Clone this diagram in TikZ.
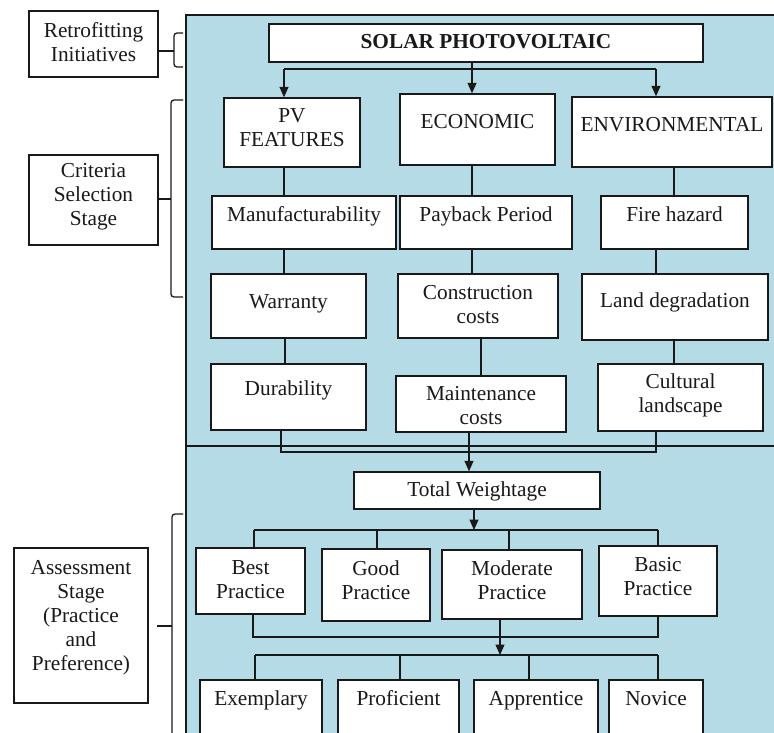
\documentclass[tikz,border=0pt]{standalone}
\usepackage{fontspec}
\setmainfont{Liberation Serif}
\usetikzlibrary{arrows.meta}
\definecolor{panel}{RGB}{181,219,230}
\definecolor{ink}{RGB}{25,25,25}
\newcommand{\bx}[8][]{%
  \node[box, minimum width={(#5-#3)*1pt}, minimum height={(#6-#4)*1pt}] (#2) at ({(#3+#5)/2},{(#4+#6)/2}) {};
  \node[txt,#1] (#2t) at ({(#3+#5)/2},#7) {#8};}
\begin{document}
\begin{tikzpicture}[x=1pt,y=-1pt,
  box/.style={draw=ink, fill=white, line width=1.4pt, inner sep=0pt},
  txt/.style={inner sep=0pt, align=center, text=ink, font=\fontsize{21.3}{24}\selectfont},
  one/.style={text height=14pt, text depth=4.5pt},
  con/.style={draw=ink, line width=1.3pt},
  arr/.style={con, -{Triangle[width=9pt,length=10.5pt]}},
  brc/.style={draw=ink, line width=1.3pt, rounded corners=3pt}]
\useasboundingbox (0,0) rectangle (774,733);
\clip (0,0) rectangle (774,733);
\fill[white] (0,0) rectangle (774,733);
% panel
\fill[panel] (186,15) rectangle (790,745);
\draw[ink, line width=2.6pt] (790,15) -- (186,15) -- (186,745);
\draw[ink, line width=1.5pt] (186,446) -- (790,446);
% left boxes
\bx{ret}{29}{11}{158}{77}{42}{Retrofitting\\Initiatives}
\bx{cri}{29}{155}{158}{245}{197}{Criteria\\Selection\\Stage}
\bx{ass}{14}{548}{148}{703}{618}{Assessment\\Stage\\(Practice\\and\\Preference)}
% braces
\coordinate (rbm) at (174,51);
\draw[brc] (183,33) -- (174,33) -- (rbm) -- (174,67) -- (183,67);
\draw[con] (ret.east |- rbm) -- (rbm);
\coordinate (cbm) at (171,199);
\draw[brc] (183,100) -- (171,100) -- (cbm) -- (171,297) -- (183,297);
\draw[con] (cri.east |- cbm) -- (cbm);
\coordinate (abm) at (172,626);
\coordinate (abl) at (157,626);
\draw[brc] (183,514) -- (172,514) -- (abm) -- (172,745);
\draw[con] (abl) -- (abm);
% main boxes
\bx[one]{sol}{269}{24}{703}{62}{44}{\bfseries SOLAR PHOTOVOLTAIC}
\bx{pv}{224}{98}{360}{167}{128}{PV\\FEATURES}
\bx[one]{eco}{400}{94}{555}{165}{124}{ECONOMIC}
\bx[one]{env}{572}{97}{772}{167}{127}{ENVIRONMENTAL}
\bx[one]{man}{212}{196}{396}{249}{217}{Manufacturability}
\bx[one]{pay}{400}{196}{572}{249}{217}{Payback Period}
\bx[one]{fir}{601}{196}{748}{249}{217}{Fire hazard}
\bx[one]{war}{211}{274}{366}{338}{304}{Warranty}
\bx{con}{398}{274}{558}{338}{305}{Construction\\costs}
\bx[one]{lan}{582}{274}{768}{340}{303}{Land degradation}
\bx[one]{dur}{211}{364}{366}{430}{391}{Durability}
\bx{mai}{396}{376}{566}{432}{406}{Maintenance\\costs}
\bx{cul}{598}{364}{763}{431}{395}{Cultural\\landscape}
\bx[one]{tw}{354}{472}{600}{509}{492}{Total Weightage}
\bx{bes}{196}{548}{305}{614}{580}{Best\\Practice}
\bx{goo}{322}{549}{430}{621}{580}{Good\\Practice}
\bx{mod}{442}{550}{582}{619}{580}{Moderate\\Practice}
\bx{bas}{599}{546}{717}{616}{577}{Basic\\Practice}
\bx[one]{exe}{200}{680}{322}{750}{701}{Exemplary}
\bx[one]{pro}{338}{680}{459}{750}{701}{Proficient}
\bx[one]{app}{474}{680}{598}{750}{701}{Apprentice}
\bx[one]{nov}{609}{680}{703}{750}{701}{Novice}
% top distribution
\coordinate (s0) at (472,69);
\coordinate (s1) at (284,69);
\coordinate (s2) at (656,69);
\draw[arr] (sol.south -| s0) -- (eco.north -| s0);
\draw[con] (s1) -- (s2);
\draw[arr] (s1) -- (pv.north -| s1);
\draw[arr] (s2) -- (env.north -| s2);
% column 1
\coordinate (k285) at (285,0);
\draw[con] (pv.south -| s1) -- (man.north -| s1);
\draw[con] (man.south -| s1) -- (war.north -| s1);
\draw[con] (war.south -| k285) -- (dur.north -| k285);
% column 2
\coordinate (k481) at (481,0);
\draw[con] (eco.south -| s0) -- (pay.north -| s0);
\draw[con] (pay.south -| s0) -- (con.north -| s0);
\draw[con] (con.south -| k481) -- (mai.north -| k481);
% column 3
\coordinate (k674) at (674,0);
\draw[con] (env.south -| k674) -- (fir.north -| k674);
\draw[con] (fir.south -| s2) -- (lan.north -| s2);
\draw[con] (lan.south -| k674) -- (cul.north -| k674);
% join to total weightage
\coordinate (j1) at (281,452);
\coordinate (j2) at (656,452);
\draw[con] (dur.south -| j1) -- (j1) -- (j2) -- (cul.south -| j2);
\coordinate (k469) at (469,0);
\draw[arr] (mai.south -| k469) -- (tw.north -| k469);
% practice distribution
\coordinate (p0) at (474,530);
\coordinate (p1) at (254,530);
\coordinate (p2) at (377,530);
\coordinate (p3) at (509,530);
\coordinate (p4) at (658,530);
\draw[arr] (tw.south -| p0) -- (p0);
\draw[con] (p1) -- (p4);
\draw[con] (p1) -- (bes.north -| p1);
\draw[con] (p2) -- (goo.north -| p2);
\draw[con] (p3) -- (mod.north -| p3);
\draw[con] (p4) -- (bas.north -| p4);
% gather
\coordinate (g1) at (253,637);
\coordinate (g2) at (658,637);
\draw[con] (bes.south -| g1) -- (g1) -- (g2) -- (bas.south -| g2);
\coordinate (q0) at (500,655);
\coordinate (q1) at (255,655);
\coordinate (q2) at (400,655);
\coordinate (q3) at (529,655);
\coordinate (q4) at (658,655);
\draw[arr] (mod.south -| q0) -- (q0);
\draw[con] (q1) -- (q4);
\draw[con] (q1) -- (exe.north -| q1);
\draw[con] (q2) -- (pro.north -| q2);
\draw[con] (q3) -- (app.north -| q3);
\draw[con] (q4) -- (nov.north -| q4);
\end{tikzpicture}
\end{document}
